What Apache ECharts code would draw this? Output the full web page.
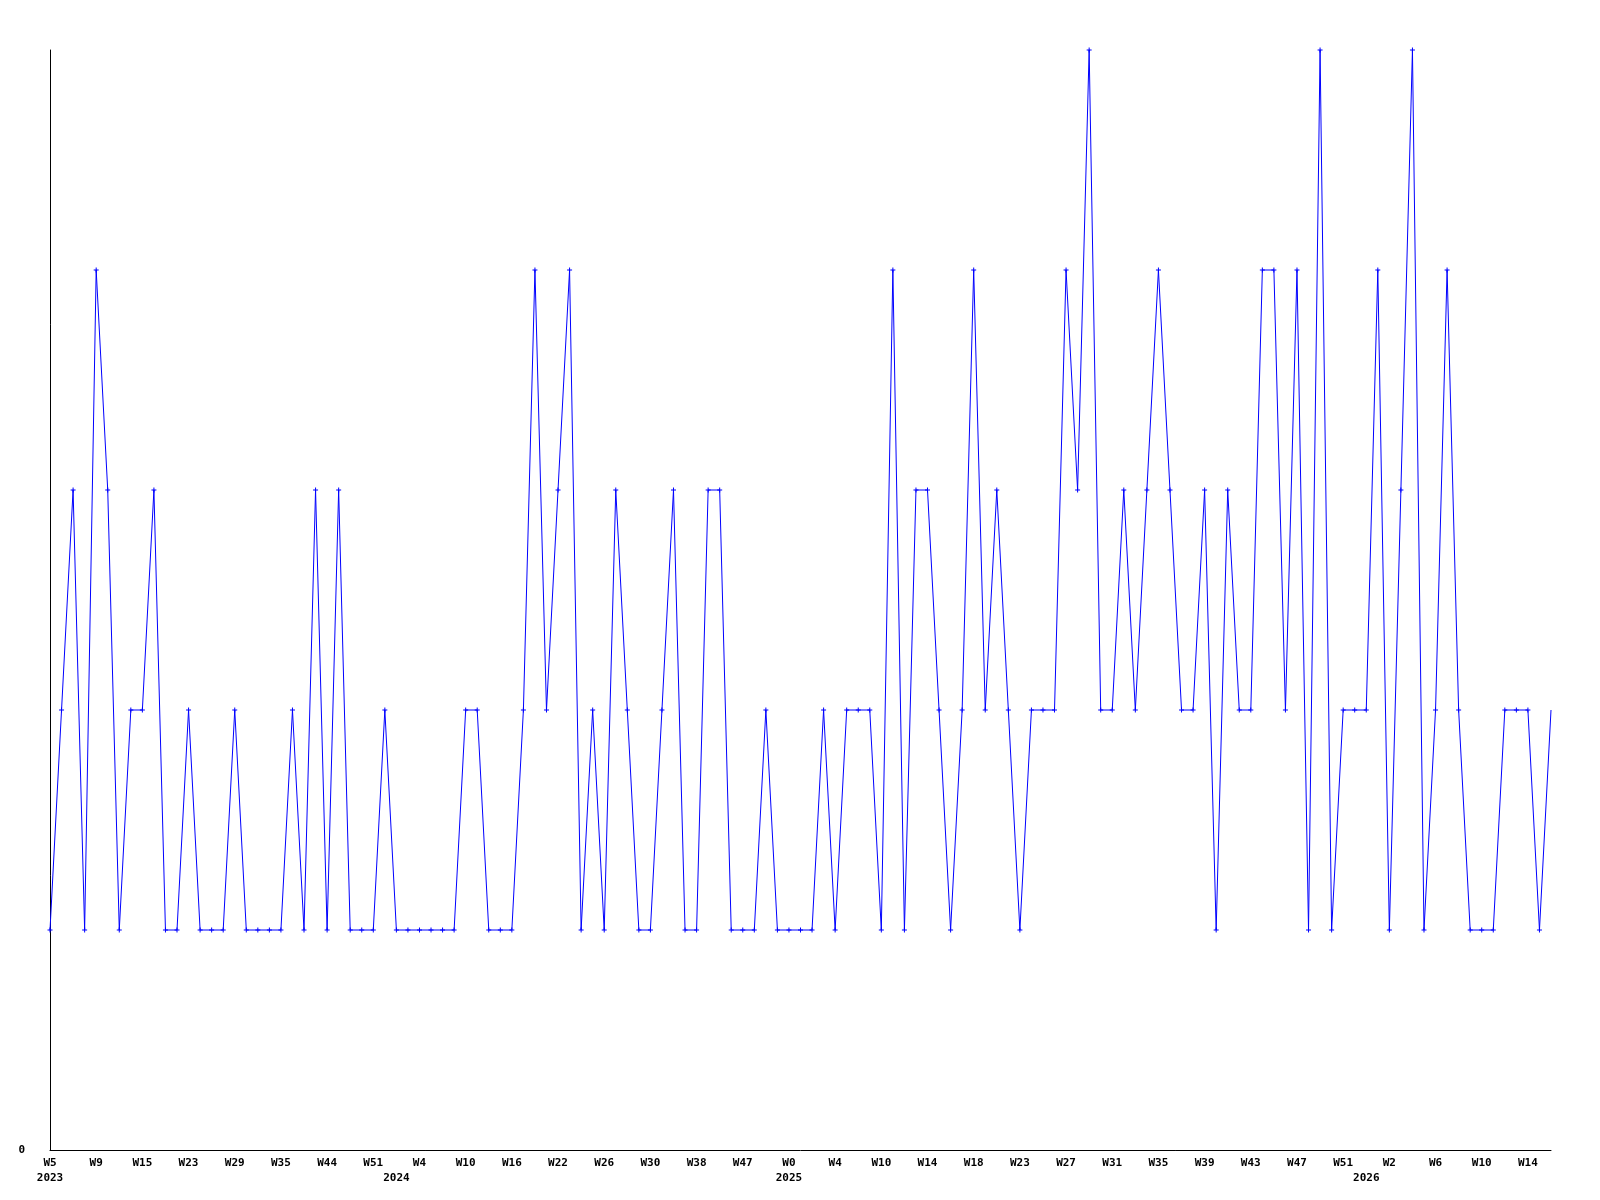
<!DOCTYPE html>
<html>
<head>
<meta charset="utf-8">
<script src="https://cdn.jsdelivr.net/npm/echarts@6/dist/echarts.min.js"></script>
<style>html,body{margin:0;padding:0;background:#fff}#c{width:1600px;height:1200px}</style>
</head>
<body>
<div id="c"></div>
<script>
// categories: "year week"
const categories = [
 "2023 W5","2023 W6","2023 W7","2023 W8","2023 W9","2023 W11","2023 W12","2023 W14","2023 W15","2023 W17",
 "2023 W19","2023 W21","2023 W23","2023 W24","2023 W26","2023 W27","2023 W29","2023 W31","2023 W32","2023 W34",
 "2023 W35","2023 W37","2023 W40","2023 W42","2023 W44","2023 W46","2023 W48","2023 W50","2023 W51","2023 W52",
 "2024 W0","2024 W2","2024 W4","2024 W6","2024 W7","2024 W9","2024 W10","2024 W12","2024 W13","2024 W15",
 "2024 W16","2024 W18","2024 W19","2024 W21","2024 W22","2024 W23","2024 W24","2024 W25","2024 W26","2024 W27",
 "2024 W28","2024 W29","2024 W30","2024 W32","2024 W34","2024 W36","2024 W38","2024 W40","2024 W42","2024 W45",
 "2024 W47","2024 W49","2024 W50","2024 W52",
 "2025 W0","2025 W1","2025 W2","2025 W3","2025 W4","2025 W6","2025 W7","2025 W9","2025 W10","2025 W11",
 "2025 W12","2025 W13","2025 W14","2025 W15","2025 W16","2025 W17","2025 W18","2025 W19","2025 W20","2025 W22",
 "2025 W23","2025 W24","2025 W25","2025 W26","2025 W27","2025 W28","2025 W29","2025 W30","2025 W31","2025 W32",
 "2025 W33","2025 W34","2025 W35","2025 W36","2025 W37","2025 W38","2025 W39","2025 W40","2025 W41","2025 W42",
 "2025 W43","2025 W44","2025 W45","2025 W46","2025 W47","2025 W48","2025 W49","2025 W50","2025 W51","2025 W52",
 "2026 W0","2026 W1","2026 W2","2026 W3","2026 W4","2026 W5","2026 W6","2026 W7","2026 W8","2026 W9",
 "2026 W10","2026 W11","2026 W12","2026 W13","2026 W14","2026 W15","2026 W16"
];
const values = [
 1,2,3,1,4,3,1,2,2,3,
 1,1,2,1,1,1,2,1,1,1,
 1,2,1,3,1,3,1,1,1,2,
 1,1,1,1,1,1,2,2,1,1,
 1,2,4,2,3,4,1,2,1,3,
 2,1,1,2,3,1,1,3,3,1,
 1,1,2,1,1,1,1,2,1,2,
 2,2,1,4,1,3,3,2,1,2,
 4,2,3,2,1,2,2,2,4,3,
 5,2,2,3,2,3,4,3,2,2,
 3,1,3,2,2,4,4,2,4,1,
 5,1,2,2,2,4,1,3,5,1,
 2,4,2,1,1,1,2,2,2,1,
 2
];
const yTickLabels = ["0"];

const weekLabels = categories.map(c => c.split(" ")[1]);
const yearLabels = categories.map((c, i) => {
  const y = c.split(" ")[0];
  return (i === 0 || categories[i - 1].split(" ")[0] !== y) ? y : "";
});
const seriesData = values.map((v, i) => i === values.length - 1 ? {value: v, symbol: 'none'} : v);

const font = {fontFamily: '"DejaVu Sans Mono", monospace', fontWeight: 'bold', fontSize: 11, color: '#000'};

const chart = echarts.init(document.getElementById('c'), null, {renderer: 'canvas'});
chart.setOption({
  animation: false,
  backgroundColor: '#fff',
  grid: {left: 50, right: 49, top: 50, bottom: 50, containLabel: false},
  xAxis: [{
    type: 'category', data: weekLabels, boundaryGap: false, position: 'bottom',
    axisLine: {show: true, lineStyle: {color: '#000', width: 1}},
    axisTick: {show: false}, splitLine: {show: false},
    axisLabel: Object.assign({interval: 3, margin: 8}, font)
  }, {
    type: 'category', data: yearLabels, boundaryGap: false, position: 'bottom',
    axisLine: {show: false}, axisTick: {show: false}, splitLine: {show: false},
    axisLabel: Object.assign({interval: (i, v) => v !== "", margin: 23}, font)
  }],
  yAxis: {
    type: 'value', min: 0, max: 5, interval: 5,
    axisLine: {show: true, lineStyle: {color: '#000', width: 1}},
    axisTick: {show: false}, splitLine: {show: false},
    axisLabel: Object.assign({margin: 25, formatter: v => yTickLabels.includes(String(v)) ? String(v) : ''}, font)
  },
  series: [{
    type: 'line', xAxisIndex: 0, data: seriesData,
    symbol: 'path://M2,0 L3,0 L3,2 L5,2 L5,3 L3,3 L3,5 L2,5 L2,3 L0,3 L0,2 L2,2 Z',
    symbolSize: 5, showAllSymbol: true,
    lineStyle: {color: '#0000ff', width: 1},
    itemStyle: {color: '#0000ff'}
  }]
});
</script>
</body>
</html>
